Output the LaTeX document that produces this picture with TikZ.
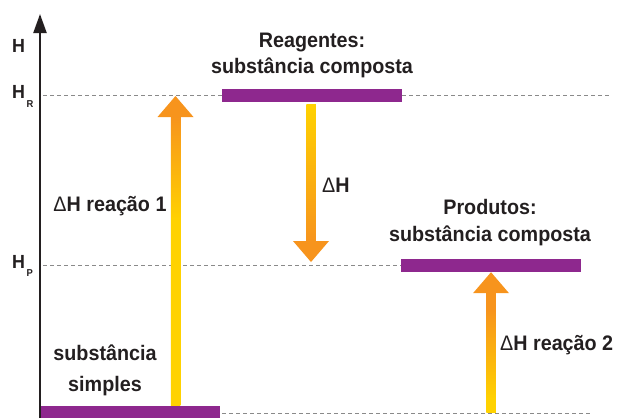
\documentclass[tikz,border=0pt]{standalone}
\usepackage{fontspec}
\setmainfont{Liberation Sans}[FakeStretch=0.94]
\usetikzlibrary{arrows.meta,calc}
\definecolor{ink}{HTML}{231F20}
\definecolor{purp}{HTML}{8E288E}
\definecolor{orng}{HTML}{F7941D}
\definecolor{yell}{HTML}{FFD200}
\definecolor{dashgray}{HTML}{8A8A8A}
\pgfdeclareverticalshading{upA}{100bp}{color(0bp)=(yell); color(25bp)=(yell); color(57bp)=(yell); color(75bp)=(orng); color(100bp)=(orng)}
\pgfdeclareverticalshading{upB}{100bp}{color(0bp)=(yell); color(30bp)=(yell); color(68bp)=(orng); color(100bp)=(orng)}
\pgfdeclareverticalshading{downC}{100bp}{color(0bp)=(orng); color(25bp)=(orng); color(75bp)=(yell); color(100bp)=(yell)}
\begin{document}
\begin{tikzpicture}[x=1pt,y=-1pt,
  bar/.style={rectangle, fill=purp, draw=none, inner sep=0pt, minimum height=13pt, minimum width=180pt},
  lvl/.style={draw=dashgray, line width=1pt, dash pattern=on 4pt off 3pt},
  lab/.style={font=\fontsize{21}{27}\selectfont\bfseries, text=ink, inner sep=0pt},
  axlab/.style={font=\fontsize{19}{22}\selectfont\bfseries, text=ink, inner sep=0pt},
  sublab/.style={font=\fontsize{10}{12}\selectfont\bfseries, text=ink, inner sep=0pt},
]
\useasboundingbox (0,0) rectangle (618,418);

% energy levels
\node[bar] (reag) at (312,95.5) {};
\node[bar] (prod) at (491,265.5) {};
\node[bar, minimum height=12pt] (simp) at (130,412) {};

% axis
\coordinate (ax0) at (40,418);
\coordinate (ax1) at (40,14);
\draw[ink, line width=2.2pt, -{Triangle[width=13pt,length=19pt]}] (ax0) -- (ax1);

% dashed levels
\coordinate (hr) at (43,95.5);
\coordinate (hrend) at (610,95.5);
\coordinate (hp) at (43,265.5);
\coordinate (hs) at (222,413);
\coordinate (hsend) at (590,413);
\draw[lvl] (hr) -- (reag.west);
\draw[lvl] (reag.east) -- (hrend);
\draw[lvl] (hp) -- (prod.west);
\draw[lvl] (hs) -- (hsend);

% arrow 1 (up, left)
\coordinate (a1b) at (175.5,405);
\coordinate (a1t) at (175.5,96);
\shade[shading=upA] ($(a1b)+(-4.75,0)$) rectangle ($(a1t)+(4.75,20.5)$);
\fill[orng] (a1t) -- ++(18,21) -- ++(-36,0) -- cycle;

% arrow Delta H (down)
\coordinate (dht) at (311,262);
\coordinate (dhb) at (311,104);
\shade[shading=downC] ($(dhb)+(-4.75,0)$) rectangle ($(dht)+(4.75,-20.5)$);
\fill[orng] (dht) -- ++(18,-21) -- ++(-36,0) -- cycle;

% arrow 2 (up, right)
\coordinate (a2b) at (491,412);
\coordinate (a2t) at (prod.south);
\shade[shading=upB] ($(a2b)+(-4.75,0)$) rectangle ($(a2t)+(4.75,20.5)$);
\fill[orng] (a2t) -- ++(18,21) -- ++(-36,0) -- cycle;

% axis labels
\node[axlab, anchor=base] (hlab) at (18.5,52) {H};
\node[axlab, anchor=base west] (hR) at (12,98.3) {H};
\node[sublab, anchor=base west] (hRs) at (26.5,107.3) {R};
\node[axlab, anchor=base west] (hP) at (12,268) {H};
\node[sublab, anchor=base west] (hPs) at (26.5,276.5) {P};

% texts
\node[lab, anchor=base] (reag1) at (312,47) {Reagentes:};
\node[lab, anchor=base] (reag2) at (312,73) {substância composta};
\node[lab, anchor=base] (prod1) at (490,214) {Produtos:};
\node[lab, anchor=base] (prod2) at (490,241) {substância composta};
\node[lab, anchor=base] (simp1) at (105,360) {substância};
\node[lab, anchor=base] (simp2) at (105,391) {simples};
\node[lab, anchor=base] (dh1) at (110,211) {{\mdseries Δ}H reação 1};
\node[lab, anchor=base west] (dh) at (322,192) {{\mdseries Δ}H};
\node[lab, anchor=base west] (dh2) at (500,350) {{\mdseries Δ}H reação 2};
\end{tikzpicture}
\end{document}
